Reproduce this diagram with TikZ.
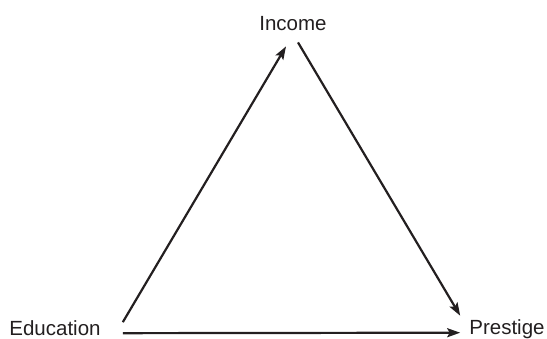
\documentclass[tikz,border=0pt]{standalone}
\usepackage{fontspec}
\setmainfont{Liberation Sans}
\usepackage{xcolor}
\usetikzlibrary{arrows.meta,calc}
\definecolor{InkDark}{HTML}{231F20}
\tikzset{
  varname/.style={inner sep=0pt, text=InkDark, anchor=base},
  path/.style={-{Stealth[length=13pt, width=9pt, inset=2.5pt]}, line width=2.2pt, draw=InkDark}
}

\begin{document}
\begin{tikzpicture}[x=1pt, y=-1pt, font=\fontsize{20.5}{24}\selectfont]
  \useasboundingbox (0,0) rectangle (547,338);
  \node[varname] (inc) at (293,30) {Income};
  \node[varname] (edu) at (55,335) {Education};
  \node[varname] (pre) at (507,334) {Prestige};
  \draw[path] ($(edu.east)+(22,-5.5)$) -- ($(inc.south)+(-7,16)$);
  \draw[path] ($(inc.south)+(5,12)$) -- ($(pre.west)+(-9,-13)$);
  \draw[path] ($(edu.east)+(22,5.5)$) -- ($(pre.west)+(-9,4)$);
\end{tikzpicture}
\end{document}
